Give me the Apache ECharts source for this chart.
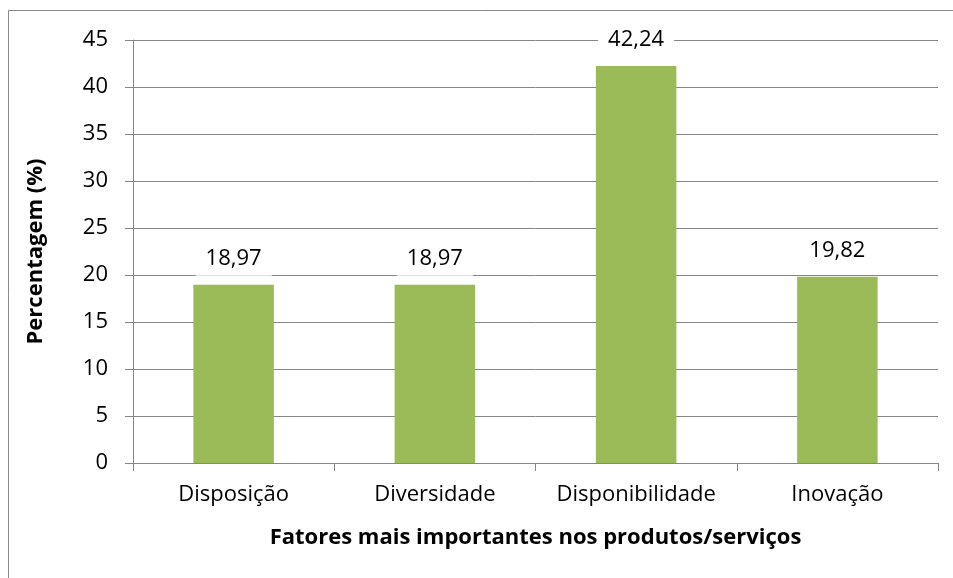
<!DOCTYPE html>
<html lang="pt">
  <head>
    <meta charset="UTF-8" />
    <title>Fatores mais importantes</title>
    <script src="https://cdn.jsdelivr.net/npm/echarts@6/dist/echarts.min.js"></script>
    <style>
      html, body { margin: 0; padding: 0; background: #fff; }
      #main { width: 953px; height: 578px; }
    </style>
  </head>
  <body>
    <div id="main"></div>
    <script>
      var categories = ["Disposição", "Diversidade", "Disponibilidade", "Inovação"];
      var values = [18.97, 18.97, 42.24, 19.82];

      var font = "'Open Sans', 'Noto Sans', sans-serif";
      var chart = echarts.init(document.getElementById("main"));

      var option = {
        backgroundColor: "#fff",
        animation: false,
        graphic: [
          {
            type: "rect",
            shape: { x: 8.5, y: 10.5, width: 960, height: 600 },
            style: { fill: "none", stroke: "#898989", lineWidth: 1 },
            silent: true
          }
        ],
        grid: { left: 133, right: 15, top: 40, bottom: 115 },
        xAxis: {
          type: "category",
          data: categories,
          name: "Fatores mais importantes nos produtos/serviços",
          nameLocation: "middle",
          nameGap: 64,
          nameTextStyle: { fontFamily: font, fontSize: 22, fontWeight: "bold", color: "#000" },
          axisLine: { lineStyle: { color: "#868686" } },
          axisTick: { show: true, interval: 0, length: 8, alignWithLabel: false, lineStyle: { color: "#868686" } },
          axisLabel: { interval: 0, hideOverlap: false, fontFamily: font, fontSize: 22, color: "#000", margin: 21 }
        },
        yAxis: {
          type: "value",
          min: 0,
          max: 45,
          interval: 5,
          name: "Percentagem (%)",
          nameLocation: "middle",
          nameGap: 86,
          nameTextStyle: { fontFamily: font, fontSize: 22, fontWeight: "bold", color: "#000" },
          axisLine: { show: true, lineStyle: { color: "#868686" } },
          axisTick: { show: true, length: 8, lineStyle: { color: "#868686" } },
          axisLabel: { fontFamily: font, fontSize: 22, color: "#000", margin: 25 },
          splitLine: { lineStyle: { color: "#868686" } }
        },
        series: [
          {
            type: "bar",
            data: values,
            barWidth: "40%",
            itemStyle: { color: "#9BBB59" },
            label: {
              show: true,
              position: "top",
              distance: 9,
              fontFamily: font,
              fontSize: 22,
              color: "#000",
              backgroundColor: "#fff",
              padding: [6, 10],
              formatter: function (p) {
                return p.value.toFixed(2).replace(".", ",");
              }
            }
          }
        ]
      };

      chart.setOption(option);
    </script>
  </body>
</html>
